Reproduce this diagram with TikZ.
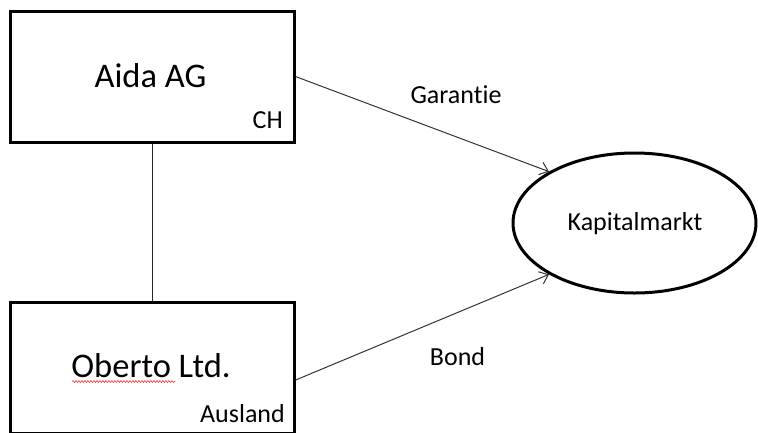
\documentclass[tikz,border=0pt]{standalone}
\usepackage{fontspec}
\setmainfont{Carlito}[Ligatures={NoCommon,NoContextual}]
\usetikzlibrary{shapes.geometric,arrows.meta,decorations.pathmorphing}
\begin{document}
\begin{tikzpicture}[x=1pt,y=-1pt,
  entity/.style={draw,line width=3pt,minimum width=284pt,minimum height=131pt,inner sep=0pt},
  market/.style={draw,ellipse,line width=3pt,minimum width=243pt,minimum height=140pt,inner sep=0pt},
  bigtext/.style={font=\fontsize{34.5}{40}\selectfont,inner sep=0pt},
  smalltext/.style={font=\fontsize{26}{30}\selectfont,inner sep=0pt},
  flow/.style={line width=1pt,draw=black!80,-{Straight Barb[length=8pt,width=13pt,line width=1pt]}},
  link/.style={line width=1pt,draw=black!85}]
  \useasboundingbox (0,0) rectangle (758,432);

  % companies and market
  \node[entity] (aida) at (152,76.5) {};
  \node[entity] (oberto) at (152,367.5) {};
  \node[market] (km) at (634.5,223) {};

  % texts inside the shapes
  \node[bigtext,anchor=base] (aidaname) at (150.5,87) {Aida AG};
  \node[smalltext,anchor=base east] (ch) at (283,128) {CH};
  \node[bigtext,anchor=base] (obertoname) at (151,377) {Oberto Ltd.};
  \node[smalltext,anchor=base east] (ausland) at (285,422) {Ausland};
  \node[smalltext,anchor=base] (kmname) at (635,230) {Kapitalmarkt};

  % spelling mark under the first word
  \coordinate (sq1) at (72,381.5);
  \coordinate (sq2) at (175,381.5);
  \draw[red!80,line width=0.6pt,decorate,decoration={snake,amplitude=1pt,segment length=3pt}] (sq1) -- (sq2);

  % connectors
  \draw[link] (aida.south) -- (oberto.north);
  \draw[flow] (aida.east) -- (km.149);
  \draw[flow] (oberto.-5.8) -- (km.211);

  % connector labels
  \node[smalltext,anchor=base] (garantie) at (456,103) {Garantie};
  \node[smalltext,anchor=base] (bond) at (457.5,365) {Bond};
\end{tikzpicture}
\end{document}
